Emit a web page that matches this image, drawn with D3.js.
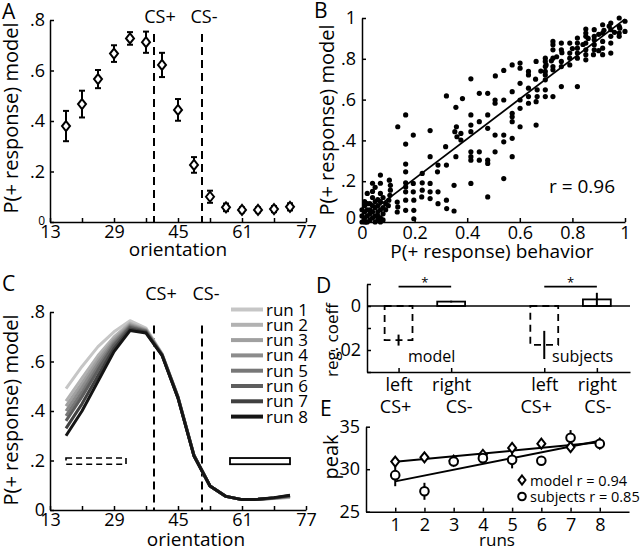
<!DOCTYPE html>
<html><head><meta charset="utf-8">
<script src="https://cdn.jsdelivr.net/npm/d3@7"></script>
<style>
body{margin:0;background:#fff}
svg text{font-family:"Open Sans",sans-serif;fill:#000}
</style>
</head><body>
<svg id="fig" width="640" height="551"></svg>
<script>
// ---------------- DATA ----------------
// Panel A
const orientations = [17,21,25,29,33,37,41,45,49,53,57,61,65,69,73];
const modelMean = [0.38,0.467,0.566,0.667,0.727,0.712,0.622,0.444,0.226,0.100,0.058,0.048,0.048,0.051,0.060];
const modelErr  = [0.060,0.053,0.036,0.033,0.025,0.042,0.048,0.043,0.031,0.024,0.015,0.010,0.010,0.012,0.014];
const oriTicks = [13,21,29,37,45,53,61,69,77];
const oriTickLabels = ["13","","29","","45","","61","","77"];
const probTicks = [0,0.2,0.4,0.6,0.8];
const probTickLabels = ["0",".2",".4",".6",".8"];
const csPlus = 39, csMinus = 51;

// Panel B scatter (behavior, model)
const behav = [0.01,0.01,0.01,0.01,0.015,0.02,0.02,0.03,0.03,0.03,0.04,0.04,0.04,0.04,0.04,0.05,0.05,0.05,0.06,0.06,0.06,0.07,0.07,0.07,0.07,0.07,0.07,0.08,0.08,0.08,0.02,0.05,
0.0,0.0,0.0,0.01,0.02,0.02,0.03,0.04,0.05,0.06,0.06,0.07,0.08,0.09,0.09,0.10,
0.104,0.108,0.108,0.106,0.102,0.134,0.136,0.134,0.136,0.166,0.166,0.195,0.166,0.166,0.166,0.166,0.166,0.166,0.166,
0.195,0.195,0.197,0.197,0.197,0.229,0.229,0.229,0.227,0.259,0.259,0.259,0.259,0.259,0.289,0.287,0.289,0.289,
0.318,0.321,0.321,0.321,0.322,0.350,0.350,0.357,0.359,0.353,0.361,0.357,0.382,0.376,0.376,
0.414,0.414,0.414,0.414,0.414,0.414,0.414,0.414,0.446,0.446,0.446,0.446,0.478,0.478,0.478,0.478,0.478,0.478,
0.507,0.506,0.506,0.506,0.506,0.539,0.539,0.539,0.539,0.539,0.571,0.571,0.571,0.571,0.571,0.571,0.571,
0.601,0.601,0.601,0.601,0.601,0.601,0.633,0.633,0.633,0.633,0.633,0.662,0.666,0.666,0.662,0.662,
0.697,0.697,0.697,0.697,0.697,0.697,0.697,0.697,0.726,0.726,0.726,0.726,0.726,0.726,0.726,
0.758,0.758,0.758,0.758,0.758,0.79,0.79,0.79,0.79,0.819,0.819,0.819,0.819,0.819,0.819,
0.851,0.851,0.851,0.851,0.851,0.851,0.851,0.883,0.883,0.883,0.883,0.883,0.915,0.915,0.915,0.915,0.915,
0.946,0.946,0.946,0.946,0.946,0.978,0.978,0.978,0.978,1.0,1.0,
0.70,0.72,0.74,0.76,0.80,0.84,0.86,0.90,0.92,0.94,0.96,0.98,0.88,0.90,0.66,0.68];
const modelP = [0.02,0.05,0.08,0.10,0.0,0.03,0.06,0.01,0.04,0.09,0.02,0.05,0.12,0.15,0.19,0.0,0.07,0.03,0.01,0.05,0.08,0.02,0.06,0.10,0.14,0.19,0.23,0.04,0.07,0.12,0.14,0.17,
0.0,0.03,0.06,0.0,0.0,0.09,0.06,0.08,0.10,0.03,0.11,0.0,0.01,0.06,0.09,0.08,
0.205,0.18,0.156,0.131,0.107,0.098,0.074,0.049,0.467,0.525,0.382,0.426,0.284,0.246,0.192,0.172,0.148,0.107,0.057,
0.189,0.148,0.107,0.057,0.016,0.238,0.192,0.156,0.123,0.448,0.32,0.189,0.148,0.115,0.279,0.246,0.148,0.09,
0.369,0.618,0.279,0.107,0.066,0.054,0.18,0.562,0.467,0.443,0.418,0.32,0.605,0.434,0.402,
0.702,0.525,0.475,0.443,0.344,0.32,0.303,0.189,0.631,0.492,0.344,0.303,0.631,0.525,0.459,0.303,0.287,0.123,
0.716,0.598,0.582,0.426,0.344,0.743,0.598,0.426,0.393,0.213,0.770,0.639,0.533,0.516,0.492,0.41,0.32,
0.779,0.754,0.68,0.598,0.557,0.467,0.738,0.721,0.656,0.615,0.582,0.787,0.648,0.615,0.59,0.475,
0.803,0.787,0.762,0.738,0.721,0.697,0.648,0.615,0.885,0.869,0.844,0.803,0.762,0.746,0.615,
0.877,0.844,0.787,0.762,0.664,0.877,0.828,0.803,0.77,0.902,0.877,0.852,0.828,0.803,0.664,
0.946,0.926,0.910,0.877,0.844,0.820,0.795,0.943,0.910,0.893,0.869,0.844,0.967,0.926,0.885,0.852,0.820,
0.975,0.943,0.910,0.877,0.828,1.0,0.959,0.926,0.910,0.984,0.934,
0.77,0.79,0.81,0.83,0.85,0.87,0.90,0.92,0.94,0.96,0.93,0.95,0.82,0.84,0.70,0.74];
const unitTicks = [0,0.2,0.4,0.6,0.8,1];
const unitXLabels = ["0","0.2","0.4","0.6","0.8","1"];
const unitYLabels = ["0",".2",".4",".6",".8","1"];
const rB = "r = 0.96";

// Panel C: model curves per run
const runNames = ["run 1","run 2","run 3","run 4","run 5","run 6","run 7","run 8"];
const runGrays = ["#c6c6c6","#b2b2b2","#a0a0a0","#8c8c8c","#777777","#5e5e5e","#404040","#151515"];
const run1 = [0.49,0.58,0.66,0.72,0.765,0.735,0.632,0.458,0.222,0.097,0.055,0.042,0.042,0.046,0.050];
const run2 = [0.44,0.533,0.624,0.699,0.755,0.730,0.630,0.457,0.221,0.097,0.055,0.042,0.042,0.047,0.052];
const run3 = [0.42,0.513,0.608,0.690,0.750,0.728,0.629,0.456,0.221,0.097,0.055,0.042,0.042,0.047,0.054];
const run4 = [0.40,0.495,0.594,0.682,0.746,0.726,0.629,0.455,0.220,0.097,0.055,0.042,0.042,0.048,0.055];
const run5 = [0.38,0.476,0.579,0.674,0.742,0.723,0.628,0.455,0.220,0.097,0.055,0.042,0.043,0.048,0.056];
const run6 = [0.36,0.458,0.565,0.666,0.738,0.721,0.627,0.454,0.219,0.097,0.055,0.042,0.043,0.049,0.057];
const run7 = [0.33,0.429,0.542,0.653,0.731,0.718,0.626,0.453,0.219,0.097,0.055,0.042,0.043,0.049,0.059];
const run8 = [0.30,0.40,0.52,0.64,0.725,0.715,0.625,0.452,0.218,0.097,0.055,0.042,0.043,0.050,0.060];
const runs = [run1,run2,run3,run4,run5,run6,run7,run8];
const leftRange = [17,32], rightRange = [58,73], rangeY = [0.185,0.21];

// Panel D
const dCats = ["left","right","left","right"];
const dCS = ["CS+","CS-","CS+","CS-"];
const dPos = [1,2,3.77,4.77];
const dVals = [-0.0155,0.002,-0.0177,0.003];
const dErr = [0.0025,0.0004,0.0064,0.003];
const dGroups = ["model","subjects"];
const dTicks = [-0.03,-0.02,-0.01,0,0.01];
const dTickLabels = ["","-.02","","0",""];

// Panel E
const runIdx = [1,2,3,4,5,6,7,8];
const peakModel = [30.9,31.4,31.0,31.7,32.5,33.0,32.6,33.0];
const peakModelErr = [0.3,0.3,0.3,0.3,0.3,0.3,0.3,0.3];
const peakSubj = [29.3,27.4,30.9,31.3,31.1,31.0,33.7,33.0];
const peakSubjErr = [1.3,1.0,0.5,0.6,1.0,0.4,0.9,0.5];
const eYTicks = [25,30,35];
const eLegend = ["model r = 0.94","subjects r = 0.85"];

// ---------------- DRAWING ----------------
const svg = d3.select("#fig");
svg.append("rect").attr("width",640).attr("height",551).attr("fill","#fff");
const TF = 18;

function styleAxis(g, fs){
  g.attr("font-family","Open Sans").attr("font-size",fs);
  g.select(".domain").attr("stroke","#000").attr("stroke-width",1.5);
  g.selectAll(".tick line").attr("stroke","#000").attr("stroke-width",1.5);
  g.selectAll(".tick text").attr("fill","#000");
}
function diamond(sel, w, h){
  return sel.attr("d",`M0,${-h}L${w},0L0,${h}L${-w},0Z`);
}
function label(txt,x,y,fs,anchor,rot){
  const t = svg.append("text").text(txt).attr("font-size",fs).attr("text-anchor",anchor||"start");
  if(rot){ t.attr("transform",`translate(${x},${y}) rotate(-90)`); }
  else t.attr("x",x).attr("y",y);
  return t;
}

// ===== Panel A =====
{
const x = d3.scaleLinear().domain([13,77]).range([50,306]);
const y = d3.scaleLinear().domain([0,0.8]).range([222,20]);
const gx = svg.append("g").attr("transform","translate(0,222)")
  .call(d3.axisBottom(x).tickValues(oriTicks).tickFormat((d,i)=>oriTickLabels[i]).tickSizeInner(-4).tickSizeOuter(0).tickPadding(3));
styleAxis(gx,TF);
const gy = svg.append("g").attr("transform","translate(50,0)")
  .call(d3.axisLeft(y).tickValues(probTicks).tickFormat((d,i)=>probTickLabels[i]).tickSizeInner(-4).tickSizeOuter(0).tickPadding(5));
styleAxis(gy,TF);
gy.selectAll(".tick text").filter(d=>d===0).attr("font-size",12).attr("dy","0.2em");
[csPlus,csMinus].forEach(c=>{
  svg.append("line").attr("x1",x(c)).attr("x2",x(c)).attr("y1",y(0.745)).attr("y2",y(0))
    .attr("stroke","#000").attr("stroke-width",2).attr("stroke-dasharray","8,5");
});
label("CS+",x(csPlus)+6,23,18,"middle");
label("CS-",x(csMinus)+2,23,18,"middle");
const g = svg.append("g");
orientations.forEach((o,i)=>{
  const cx = x(o), m = modelMean[i], e = modelErr[i];
  g.append("line").attr("x1",cx).attr("x2",cx).attr("y1",y(m-e)).attr("y2",y(m+e)).attr("stroke","#000").attr("stroke-width",2);
  [m-e,m+e].forEach(v=>g.append("line").attr("x1",cx-3).attr("x2",cx+3).attr("y1",y(v)).attr("y2",y(v)).attr("stroke","#000").attr("stroke-width",2));
  diamond(g.append("path"),4,5).attr("transform",`translate(${cx},${y(m)})`).attr("fill","#fff").attr("stroke","#000").attr("stroke-width",2);
});
label("orientation",178,256,19,"middle");
label("P(+ response) model",18,118,20,"middle",true);
label("A",2,19,21,"start");
}

// ===== Panel B =====
{
const x = d3.scaleLinear().domain([0,1]).range([362,625]);
const y = d3.scaleLinear().domain([0,1]).range([222,18]);
const gx = svg.append("g").attr("transform","translate(0,222)")
  .call(d3.axisBottom(x).tickValues(unitTicks).tickFormat((d,i)=>unitXLabels[i]).tickSizeInner(-4).tickSizeOuter(0).tickPadding(4));
styleAxis(gx,TF);
const gy = svg.append("g").attr("transform","translate(362,0)")
  .call(d3.axisLeft(y).tickValues(unitTicks).tickFormat((d,i)=>unitYLabels[i]).tickSizeInner(-4).tickSizeOuter(0).tickPadding(6));
styleAxis(gy,TF);
gy.selectAll(".tick text").filter(d=>d===0).attr("dy","0.1em");
const pts = behav.map((b,i)=>[b,modelP[i]]);
svg.append("g").selectAll("circle").data(pts).join("circle")
  .attr("cx",d=>x(d[0])).attr("cy",d=>y(d[1])).attr("r",2.6).attr("fill","#000");
// least-squares fit
const mx = d3.mean(behav), my = d3.mean(modelP);
const b1 = d3.sum(pts,d=>(d[0]-mx)*(d[1]-my))/d3.sum(pts,d=>(d[0]-mx)**2);
const b0 = my - b1*mx;
const x0 = 0.04, x1 = d3.max(behav);
svg.append("line").attr("x1",x(x0)).attr("y1",y(b0+b1*x0)).attr("x2",x(x1)).attr("y2",y(b0+b1*x1))
  .attr("stroke","#000").attr("stroke-width",1.8);
label(rB,582,193,19,"middle");
label("P(+ response) behavior",492,258,19,"middle");
label("P(+ response) model",334,120,20,"middle",true);
label("B",314,18,21,"start");
}

// ===== Panel C =====
{
const x = d3.scaleLinear().domain([13,77]).range([50,306]);
const y = d3.scaleLinear().domain([0,0.8]).range([510,312]);
const gx = svg.append("g").attr("transform","translate(0,510)")
  .call(d3.axisBottom(x).tickValues(oriTicks).tickFormat((d,i)=>oriTickLabels[i]).tickSizeInner(-4).tickSizeOuter(0).tickPadding(3));
styleAxis(gx,TF);
const gy = svg.append("g").attr("transform","translate(50,0)")
  .call(d3.axisLeft(y).tickValues(probTicks).tickFormat((d,i)=>probTickLabels[i]).tickSizeInner(-4).tickSizeOuter(0).tickPadding(5));
styleAxis(gy,TF);
[csPlus,csMinus].forEach(c=>{
  svg.append("line").attr("x1",x(c)).attr("x2",x(c)).attr("y1",y(0.745)).attr("y2",y(0))
    .attr("stroke","#000").attr("stroke-width",2).attr("stroke-dasharray","8,5");
});
label("CS+",x(csPlus)+7,300,18,"middle");
label("CS-",x(csMinus)+4,300,18,"middle");
const line = d3.line().x((d,i)=>x(orientations[i])).y(d=>y(d));
runs.forEach((r,k)=>{
  svg.append("path").attr("d",line(r)).attr("fill","none").attr("stroke",runGrays[k]).attr("stroke-width",3).attr("stroke-linejoin","round");
});
// range boxes
svg.append("rect").attr("x",x(leftRange[0])).attr("y",y(rangeY[1])).attr("width",x(leftRange[1])-x(leftRange[0])).attr("height",y(rangeY[0])-y(rangeY[1]))
  .attr("fill","none").attr("stroke","#000").attr("stroke-width",1.6).attr("stroke-dasharray","6,4");
svg.append("rect").attr("x",x(rightRange[0])).attr("y",y(rangeY[1])).attr("width",x(rightRange[1])-x(rightRange[0])).attr("height",y(rangeY[0])-y(rangeY[1]))
  .attr("fill","none").attr("stroke","#000").attr("stroke-width",1.8);
// legend
runNames.forEach((n,k)=>{
  const ly = 309.5 + k*15.3;
  svg.append("line").attr("x1",231).attr("x2",263).attr("y1",ly).attr("y2",ly).attr("stroke",runGrays[k]).attr("stroke-width",4);
  label(n,266,ly+6,17,"start");
});
label("orientation",196,546,19,"middle");
label("P(+ response) model",18,410,20,"middle",true);
label("C",2,291,21,"start");
}

// ===== Panel D =====
{
const x = d3.scaleLinear().domain([0.4,5.4]).range([367,630]);
const y = d3.scaleLinear().domain([-0.03,0.01]).range([372,284]);
const bw = 0.53;
const gx = svg.append("g").attr("transform","translate(0,372)")
  .call(d3.axisBottom(x).tickValues(dPos).tickFormat((d,i)=>dCats[i]).tickSizeInner(-4).tickSizeOuter(0).tickPadding(6));
styleAxis(gx,TF);
const gy = svg.append("g").attr("transform","translate(367,0)")
  .call(d3.axisLeft(y).tickValues(dTicks).tickFormat((d,i)=>dTickLabels[i]).tickSizeInner(-4).tickSizeOuter(0).tickPadding(6));
styleAxis(gy,TF);
dPos.forEach((p,i)=>label(dCS[i],x(p)+[-3,8,-8,1][i],413,18,"middle"));
// zero line
svg.append("line").attr("x1",x(0.4)).attr("x2",x(5.4)).attr("y1",y(0)).attr("y2",y(0)).attr("stroke","#000").attr("stroke-width",1.6);
dPos.forEach((p,i)=>{
  const v = dVals[i], e = dErr[i];
  const dashed = v<0;
  svg.append("rect").attr("x",x(p-bw/2)).attr("width",x(p+bw/2)-x(p-bw/2))
    .attr("y",y(Math.max(v,0))).attr("height",Math.abs(y(v)-y(0)))
    .attr("fill","none").attr("stroke","#000").attr("stroke-width",1.8)
    .attr("stroke-dasharray",dashed?"7,5":null);
  svg.append("line").attr("x1",x(p)).attr("x2",x(p)).attr("y1",y(v-e)).attr("y2",y(v+e)).attr("stroke","#000").attr("stroke-width",2);
});
// significance
[[0,1],[2,3]].forEach(([a,b])=>{
  svg.append("line").attr("x1",x(dPos[a])).attr("x2",x(dPos[b])).attr("y1",y(0.0088)).attr("y2",y(0.0088)).attr("stroke","#000").attr("stroke-width",1.6);
  label("*",(x(dPos[a])+x(dPos[b]))/2,287,13,"middle");
});
label(dGroups[0],408,362,16,"start");
label(dGroups[1],552,362,16,"start");
label("reg. coeff",338,340,17,"middle",true);
label("D",316,293,21,"start");
}

// ===== Panel E =====
{
const x = d3.scaleLinear().domain([0,9]).range([366,629]);
const y = d3.scaleLinear().domain([25,35]).range([511.7,426.7]);
const gx = svg.append("g").attr("transform","translate(0,511.7)")
  .call(d3.axisBottom(x).tickValues(runIdx).tickSizeInner(-4).tickSizeOuter(0).tickPadding(7));
styleAxis(gx,TF);
const gy = svg.append("g").attr("transform","translate(366,0)")
  .call(d3.axisLeft(y).tickValues(eYTicks).tickSizeInner(-4).tickSizeOuter(0).tickPadding(6));
styleAxis(gy,TF);
function fit(ys){
  const mx = d3.mean(runIdx), my = d3.mean(ys);
  const b = d3.sum(runIdx,(r,i)=>(r-mx)*(ys[i]-my))/d3.sum(runIdx,r=>(r-mx)**2);
  return [my-b*mx,b];
}
[peakModel,peakSubj].forEach(ys=>{
  const [a,b] = fit(ys);
  svg.append("line").attr("x1",x(1)).attr("x2",x(8)).attr("y1",y(a+b)).attr("y2",y(a+8*b)).attr("stroke","#000").attr("stroke-width",2);
});
runIdx.forEach((r,i)=>{
  [[peakModel,peakModelErr],[peakSubj,peakSubjErr]].forEach(([m,e])=>{
    svg.append("line").attr("x1",x(r)).attr("x2",x(r)).attr("y1",y(m[i]-e[i])).attr("y2",y(m[i]+e[i])).attr("stroke","#000").attr("stroke-width",2);
  });
  diamond(svg.append("path"),4,5).attr("transform",`translate(${x(r)},${y(peakModel[i])})`).attr("fill","#fff").attr("stroke","#000").attr("stroke-width",2);
  svg.append("circle").attr("cx",x(r)).attr("cy",y(peakSubj[i])).attr("r",4.3).attr("fill","#fff").attr("stroke","#000").attr("stroke-width",2);
});
diamond(svg.append("path"),3.5,4.5).attr("transform","translate(522,480)").attr("fill","#fff").attr("stroke","#000").attr("stroke-width",2);
svg.append("circle").attr("cx",522).attr("cy",496.5).attr("r",3.8).attr("fill","#fff").attr("stroke","#000").attr("stroke-width",2);
label(eLegend[0],530,485.5,14.5,"start");
label(eLegend[1],530,502,14.5,"start");
label("runs",497,546,17,"middle");
label("peak",338,457,20,"middle",true);
label("E",320,416,21,"start");
}
</script>
</body></html>
